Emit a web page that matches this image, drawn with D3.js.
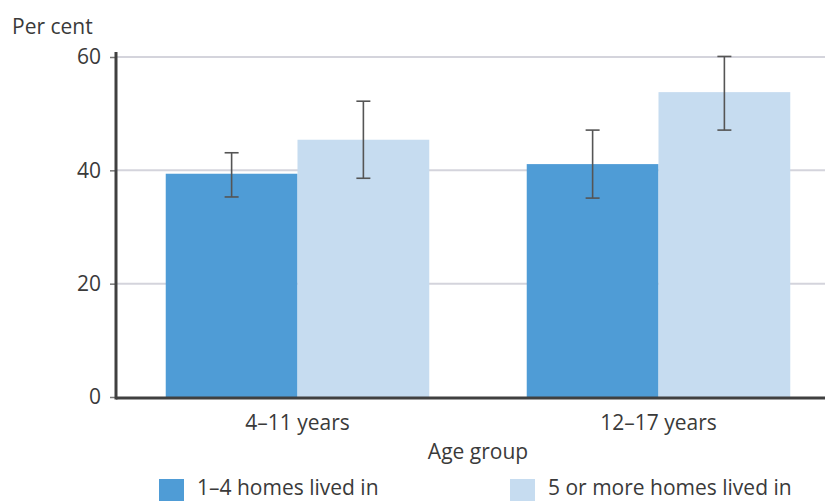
<!DOCTYPE html>
<html>
<head>
<meta charset="utf-8">
<script src="https://cdn.jsdelivr.net/npm/d3@7"></script>
<style>
  html, body { margin: 0; padding: 0; background: #fff; }
  svg { display: block; }
  text { font-family: "Open Sans", sans-serif; fill: #3a3a3a; }
</style>
</head>
<body>
<svg id="chart" width="825" height="501"></svg>
<script>
const categories = ["4–11 years", "12–17 years"];
const seriesNames = ["1–4 homes lived in", "5 or more homes lived in"];
const values = {
  "1–4 homes lived in": [39.4, 41.1],
  "5 or more homes lived in": [45.4, 53.8]
};
const lowerCI = {
  "1–4 homes lived in": [35.3, 35.1],
  "5 or more homes lived in": [38.6, 47.1]
};
const upperCI = {
  "1–4 homes lived in": [43.1, 47.1],
  "5 or more homes lived in": [52.2, 60.1]
};
const yTicks = [0, 20, 40, 60];
const colors = ["#4f9cd6", "#c6dcf0"];

const svg = d3.select("#chart");
const fontSize = 21;

const x0 = d3.scaleBand().domain(categories).range([117, 839]).paddingInner(0.27).paddingOuter(0.135);
const x1 = d3.scaleBand().domain(seriesNames).range([0, x0.bandwidth()]).padding(0);
const y = d3.scaleLinear().domain([0, 60]).range([397, 57]);
const color = d3.scaleOrdinal().domain(seriesNames).range(colors);

// gridlines
svg.append("g").selectAll("line").data(yTicks.filter(d => d > 0)).join("line")
  .attr("x1", 116).attr("x2", 825)
  .attr("y1", d => y(d)).attr("y2", d => y(d))
  .attr("stroke", "#d4d4dc").attr("stroke-width", 2);

// bars
const rows = [];
categories.forEach((c, i) => seriesNames.forEach(s => rows.push({
  cat: c, s, v: values[s][i], lo: lowerCI[s][i], hi: upperCI[s][i]
})));

svg.append("g").selectAll("rect").data(rows).join("rect")
  .attr("x", d => x0(d.cat) + x1(d.s))
  .attr("width", x1.bandwidth())
  .attr("y", d => y(d.v))
  .attr("height", d => y(0) - y(d.v))
  .attr("fill", d => color(d.s));

// error bars
const eb = svg.append("g").attr("stroke", "#555").attr("stroke-width", 1.6).attr("fill", "none");
rows.forEach(d => {
  const cx = x0(d.cat) + x1(d.s) + x1.bandwidth() / 2;
  eb.append("line").attr("x1", cx).attr("x2", cx).attr("y1", y(d.lo)).attr("y2", y(d.hi));
  eb.append("line").attr("x1", cx - 7).attr("x2", cx + 7).attr("y1", y(d.lo)).attr("y2", y(d.lo));
  eb.append("line").attr("x1", cx - 7).attr("x2", cx + 7).attr("y1", y(d.hi)).attr("y2", y(d.hi));
});

// y axis
const yAxis = d3.axisLeft(y).tickValues(yTicks).tickSize(6).tickPadding(9).tickFormat(d3.format("d"));
const yg = svg.append("g").attr("transform", "translate(116,0)").call(yAxis);
yg.select(".domain").remove();
yg.selectAll(".tick line").attr("stroke", "#777").attr("stroke-width", 1.5);
yg.selectAll(".tick text").attr("font-size", fontSize).attr("font-family", "Open Sans, sans-serif").attr("fill", "#3a3a3a");
svg.append("line").attr("x1", 116).attr("x2", 116).attr("y1", 52).attr("y2", 399.5)
  .attr("stroke", "#404040").attr("stroke-width", 3);

// x axis
const xAxis = d3.axisBottom(x0).tickSize(0).tickPadding(17);
const xg = svg.append("g").attr("transform", "translate(0,398)").call(xAxis);
xg.select(".domain").remove();
xg.selectAll(".tick text").attr("font-size", fontSize).attr("font-family", "Open Sans, sans-serif").attr("fill", "#3a3a3a");
svg.append("line").attr("x1", 116).attr("x2", 825).attr("y1", 398).attr("y2", 398)
  .attr("stroke", "#404040").attr("stroke-width", 3);

// axis titles
svg.append("text").attr("x", 12).attr("y", 34).attr("font-size", fontSize).text("Per cent");
svg.append("text").attr("x", (117 + 839) / 2).attr("y", 459).attr("text-anchor", "middle")
  .attr("font-size", fontSize).text("Age group");

// legend
const legendX = [159, 510];
const lg = svg.append("g").selectAll("g").data(seriesNames).join("g")
  .attr("transform", (d, i) => `translate(${legendX[i]},479)`);
lg.append("rect").attr("width", 25).attr("height", 22).attr("fill", d => color(d));
lg.append("text").attr("x", 38).attr("y", 16).attr("font-size", fontSize).text(d => d);
</script>
</body>
</html>
